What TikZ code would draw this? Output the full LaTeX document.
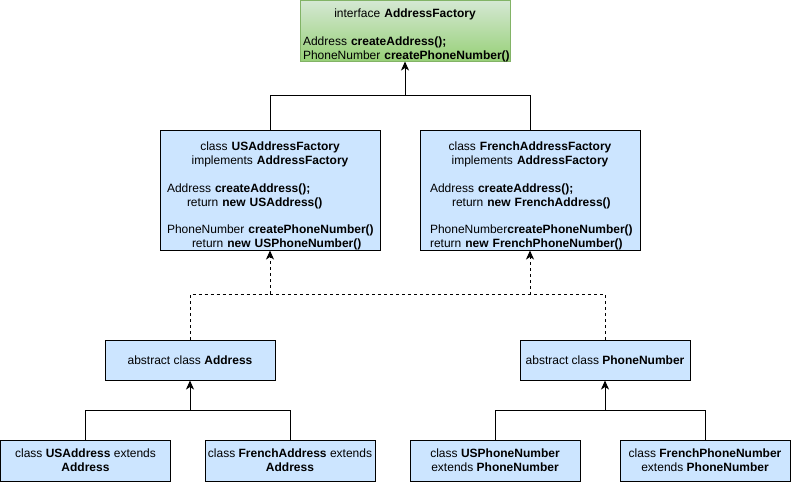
\documentclass[tikz,border=0pt]{standalone}
\usepackage{fontspec}
\setmainfont{Liberation Sans}
\usetikzlibrary{arrows.meta}
\definecolor{bluefill}{HTML}{CCE5FF}
\definecolor{greentop}{HTML}{D5E8D4}
\definecolor{greenbot}{HTML}{97D077}
\definecolor{greenline}{HTML}{82B366}
\begin{document}
\begin{tikzpicture}[x=1pt,y=-1pt,
  box/.style={draw=black, fill=bluefill, line width=1pt, inner sep=0pt, align=center, font=\fontsize{12}{13.8}\selectfont},
  txt/.style={inner sep=0pt, font=\fontsize{12}{13.8}\selectfont, align=left},
  conn/.style={line width=1pt, draw=black},
  arr/.style={conn, -{Stealth[length=9pt,width=8pt,inset=2.5pt]}},
  dsh/.style={dash pattern=on 3pt off 3pt}]
\useasboundingbox (0,0) rectangle (791,482);

% interface
\node[draw=greenline, top color=greentop, bottom color=greenbot, line width=1pt, inner sep=0pt,
      minimum width=210pt, minimum height=61pt] (iface) at (405,30.5) {};
\node[txt, text width=204pt] (ifacetxt) at (405,35.5)
 {\makebox[204pt][c]{interface \textbf{AddressFactory}}\\
  \mbox{}\\
  \mbox{Address \textbf{createAddress();}}\\
  \mbox{PhoneNumber \textbf{createPhoneNumber()}}};

% factories
\node[box, minimum width=220pt, minimum height=120pt] (usf) at (270,190) {};
\node[txt, text width=206pt] (usftxt) at (270,196)
 {\makebox[206pt][c]{class \textbf{USAddressFactory}}\\
  \makebox[206pt][c]{implements \textbf{AddressFactory}}\\
  \mbox{}\\
  \mbox{Address \textbf{createAddress();}}\\
  \mbox{\hspace*{20pt}return \textbf{new USAddress()}}\\
  \mbox{}\\
  \mbox{PhoneNumber \textbf{createPhoneNumber()}}\\
  \mbox{\hspace*{25pt}return \textbf{new USPhoneNumber()}}};

\node[box, minimum width=220pt, minimum height=120pt] (frf) at (530,190) {};
\node[txt, text width=206pt] (frftxt) at (533,196)
 {\makebox[206pt][c]{\hspace*{-6pt}class \textbf{FrenchAddressFactory}}\\
  \makebox[206pt][c]{\hspace*{-6pt}implements \textbf{AddressFactory}}\\
  \mbox{}\\
  \mbox{Address \textbf{createAddress();}}\\
  \mbox{\hspace*{22pt}return \textbf{new FrenchAddress()}}\\
  \mbox{}\\
  \mbox{PhoneNumber\textbf{createPhoneNumber()}}\\
  \mbox{return \textbf{new FrenchPhoneNumber()}}};

% abstract classes
\node[box, minimum width=170pt, minimum height=40pt] (addr) at (190,360) {abstract class \textbf{Address}};
\node[box, minimum width=170pt, minimum height=40pt] (phone) at (605,360) {abstract class \textbf{PhoneNumber}};

% concrete classes
\node[box, minimum width=170pt, minimum height=41pt] (usa) at (85.5,460.5) {class \textbf{USAddress} extends\\\textbf{Address}};
\node[box, minimum width=170pt, minimum height=41pt] (fra) at (290,460.5) {class \textbf{FrenchAddress} extends\\\textbf{Address}};
\node[box, minimum width=170pt, minimum height=41pt] (usp) at (495,460.5) {class \textbf{USPhoneNumber}\\extends \textbf{PhoneNumber}};
\node[box, minimum width=170pt, minimum height=41pt] (frp) at (705,460.5) {class \textbf{FrenchPhoneNumber}\\extends \textbf{PhoneNumber}};

% junctions
\coordinate (j1) at (405,95);
\coordinate (d1) at (270,294);
\coordinate (d2) at (530,294);
\coordinate (a1) at (190,410);
\coordinate (p1) at (605,410);

% implementation of interface
\draw[arr] (usf.north) |- (j1) -- (iface.south);
\draw[conn] (frf.north) |- (j1);

% dependencies
\draw[arr, dsh] (addr.north) |- (d1) -- (usf.south);
\draw[arr, dsh] (phone.north) |- (d2) -- (frf.south);
\draw[conn, dsh] (d1) -- (d2);

% inheritance
\draw[arr] (usa.north) |- (a1) -- (addr.south);
\draw[conn] (fra.north) |- (a1);
\draw[arr] (usp.north) |- (p1) -- (phone.south);
\draw[conn] (frp.north) |- (p1);
\end{tikzpicture}
\end{document}
